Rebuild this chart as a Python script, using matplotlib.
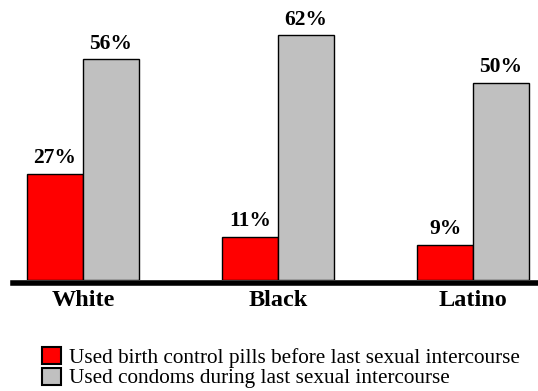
import matplotlib
matplotlib.use("Agg")
import matplotlib.pyplot as plt
import numpy as np
from matplotlib.patches import Patch

groups = ["White", "Black", "Latino"]
pills = [27, 11, 9]
condoms = [56, 62, 50]
series_labels = ["Used birth control pills before last sexual intercourse",
                 "Used condoms during last sexual intercourse"]

plt.rcParams["font.family"] = ["Liberation Serif", "DejaVu Serif"]

fig = plt.figure(figsize=(5.38, 3.91), dpi=100)
ax = fig.add_axes([13 / 538, 111 / 391, 525 / 538, 280 / 391])

x = np.arange(len(groups))
w = 0.287
red, gray = "#ff0000", "#c0c0c0"
b1 = ax.bar(x - w / 2, pills, w, color=red, edgecolor="black", linewidth=1.0, zorder=2)
b2 = ax.bar(x + w / 2, condoms, w, color=gray, edgecolor="black", linewidth=1.0, zorder=2)

for bars, vals in ((b1, pills), (b2, condoms)):
    for r, v in zip(bars, vals):
        ax.text(r.get_x() + r.get_width() / 2, v + 1.4, f"{v}%", ha="center",
                va="bottom", fontsize=15.5, fontweight="bold")

ax.set_xlim(-0.359, 2.333)
ax.set_ylim(0, 71)
for s in ("top", "right", "left"):
    ax.spines[s].set_visible(False)
ax.spines["bottom"].set_linewidth(4.0)
ax.spines["bottom"].set_position(("outward", 2.0))
ax.spines["bottom"].set_zorder(3)
ax.set_yticks([])
ax.set_xticks(x)
ax.set_xticklabels(groups, fontsize=17.5, fontweight="bold")
ax.tick_params(axis="x", length=0, pad=5)

handles = [Patch(facecolor=red, edgecolor="black", linewidth=1.5),
           Patch(facecolor=gray, edgecolor="black", linewidth=1.5)]
fig.legend(handles, series_labels, loc="lower left", bbox_to_anchor=(33 / 538, -6 / 391),
           frameon=False, fontsize=15.3, handlelength=0.9, handleheight=0.85,
           handletextpad=0.4, labelspacing=0.0, borderaxespad=0)

fig.savefig("out.png", dpi=100)
